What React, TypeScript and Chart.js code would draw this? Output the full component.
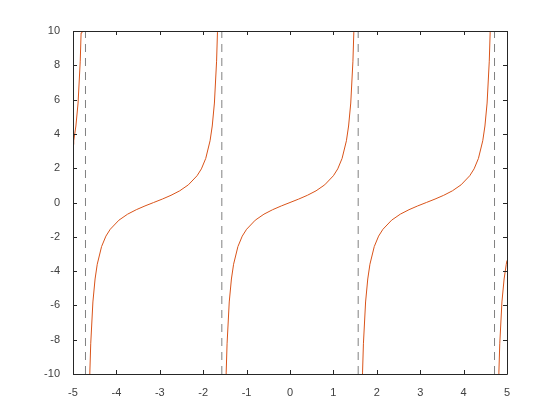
import React, { useEffect, useRef } from "react";
import { Chart, registerables } from "chart.js";

Chart.register(...registerables);

// tan(x) branches, values (y clipped to [-10, 10] by the axes)
const branchAX = [-5, -4.9832, -4.9332, -4.8832, -4.8332, -4.8132, -4.7932, -4.7632, -4.7332];
const branchAY = [3.38, 3.6, 4.46, 5.8, 8.24, 9.89, 12.35, 19.67, 48.08];

const branchBX = [-4.6916, -4.6616, -4.6316, -4.6116, -4.5916, -4.5416, -4.4916, -4.4416, -4.3416, -4.2416, -4.1416, -3.9416, -3.7416, -3.5416, -3.3416, -3.1416, -2.9416, -2.7416, -2.5416, -2.3416, -2.1416, -2.0416, -1.9416, -1.8416, -1.7916, -1.7416, -1.6916, -1.6716, -1.6516, -1.6216, -1.5916];
const branchCX = [-1.55, -1.52, -1.49, -1.47, -1.45, -1.4, -1.35, -1.3, -1.2, -1.1, -1.0, -0.8, -0.6, -0.4, -0.2, 0, 0.2, 0.4, 0.6, 0.8, 1.0, 1.1, 1.2, 1.3, 1.35, 1.4, 1.45, 1.47, 1.49, 1.52, 1.55];
const branchDX = [1.5916, 1.6216, 1.6516, 1.6716, 1.6916, 1.7416, 1.7916, 1.8416, 1.9416, 2.0416, 2.1416, 2.3416, 2.5416, 2.7416, 2.9416, 3.1416, 3.3416, 3.5416, 3.7416, 3.9416, 4.1416, 4.2416, 4.3416, 4.4416, 4.4916, 4.5416, 4.5916, 4.6116, 4.6316, 4.6616, 4.6916];
const midBranchY = [-48.08, -19.67, -12.35, -9.89, -8.24, -5.8, -4.46, -3.6, -2.57, -1.96, -1.56, -1.03, -0.68, -0.42, -0.2, 0, 0.2, 0.42, 0.68, 1.03, 1.56, 1.96, 2.57, 3.6, 4.46, 5.8, 8.24, 9.89, 12.35, 19.67, 48.08];

const branchEX = [4.7332, 4.7632, 4.7932, 4.8132, 4.8332, 4.8832, 4.9332, 4.9832, 5];
const branchEY = [-48.08, -19.67, -12.35, -9.89, -8.24, -5.8, -4.46, -3.6, -3.38];

const asymptotesX = [-4.7124, -1.5708, 1.5708, 4.7124];
const yLimits = [-10, 10];

const xTicks = [-5, -4, -3, -2, -1, 0, 1, 2, 3, 4, 5];
const yTicks = [-10, -8, -6, -4, -2, 0, 2, 4, 6, 8, 10];

const curveColor = "#d95319";
const dashColor = "#808080";
const textColor = "#404040";

const zip = (xs: number[], ys: number[]) => xs.map((x, i) => ({ x, y: ys[i] }));

const boxPlugin = {
  id: "octaveBox",
  afterDatasetsDraw(chart: any) {
    const { ctx, chartArea: a, scales } = chart;
    const xs = scales.x;
    const ys = scales.y;
    ctx.save();
    ctx.strokeStyle = "#262626";
    ctx.lineWidth = 1;
    ctx.beginPath();
    ctx.rect(Math.round(a.left) + 0.5, Math.round(a.top) + 0.5, Math.round(a.right - a.left), Math.round(a.bottom - a.top));
    ctx.stroke();
    const tl = 4;
    ctx.beginPath();
    xTicks.forEach((v) => {
      const px = Math.round(xs.getPixelForValue(v)) + 0.5;
      ctx.moveTo(px, a.bottom);
      ctx.lineTo(px, a.bottom - tl);
      ctx.moveTo(px, a.top);
      ctx.lineTo(px, a.top + tl);
    });
    yTicks.forEach((v) => {
      const py = Math.round(ys.getPixelForValue(v)) + 0.5;
      ctx.moveTo(a.left, py);
      ctx.lineTo(a.left + tl, py);
      ctx.moveTo(a.right, py);
      ctx.lineTo(a.right - tl, py);
    });
    ctx.stroke();
    ctx.restore();
  },
};

export default function App() {
  const ref = useRef<HTMLCanvasElement | null>(null);
  useEffect(() => {
    if (!ref.current) return;
    const curve = (data: { x: number; y: number }[]) => ({
      data,
      showLine: true,
      borderColor: curveColor,
      backgroundColor: curveColor,
      borderWidth: 1,
      pointRadius: 0,
      tension: 0,
    });
    const dashSets = asymptotesX.map((x) => ({
      data: [
        { x, y: yLimits[0] },
        { x, y: yLimits[1] },
      ],
      showLine: true,
      borderColor: dashColor,
      backgroundColor: dashColor,
      borderWidth: 1,
      borderDash: [8, 6],
      pointRadius: 0,
    }));
    const chart = new Chart(ref.current, {
      type: "scatter",
      data: {
        datasets: [
          curve(zip(branchAX, branchAY)),
          curve(zip(branchBX, midBranchY)),
          curve(zip(branchCX, midBranchY)),
          curve(zip(branchDX, midBranchY)),
          curve(zip(branchEX, branchEY)),
          ...dashSets,
        ] as any,
      },
      options: {
        animation: false,
        responsive: false,
        devicePixelRatio: 1,
        layout: { padding: { left: 33, top: 31, right: 53, bottom: 0 } },
        plugins: { legend: { display: false }, tooltip: { enabled: false } },
        scales: {
          x: {
            type: "linear",
            min: -5,
            max: 5,
            grid: { display: false },
            border: { display: false },
            afterFit: (s: any) => {
              s.height = 46;
            },
            afterBuildTicks: (s: any) => {
              s.ticks = xTicks.map((v) => ({ value: v }));
            },
            ticks: {
              padding: 4,
              color: textColor,
              font: { family: "Liberation Sans, Arial, sans-serif", size: 11 },
              maxRotation: 0,
              autoSkip: false,
            },
          },
          y: {
            type: "linear",
            min: -10,
            max: 10,
            grid: { display: false },
            border: { display: false },
            afterFit: (s: any) => {
              s.width = 40;
            },
            afterBuildTicks: (s: any) => {
              s.ticks = yTicks.map((v) => ({ value: v }));
            },
            ticks: {
              padding: 5,
              color: textColor,
              font: { family: "Liberation Sans, Arial, sans-serif", size: 11 },
              autoSkip: false,
            },
          },
        },
      },
      plugins: [boxPlugin],
    });
    return () => chart.destroy();
  }, []);
  return (
    <div style={{ position: "fixed", left: 0, top: 0, width: 560, height: 420, background: "#fff" }}>
      <canvas ref={ref} width={560} height={420} style={{ width: 560, height: 420 }} />
    </div>
  );
}
